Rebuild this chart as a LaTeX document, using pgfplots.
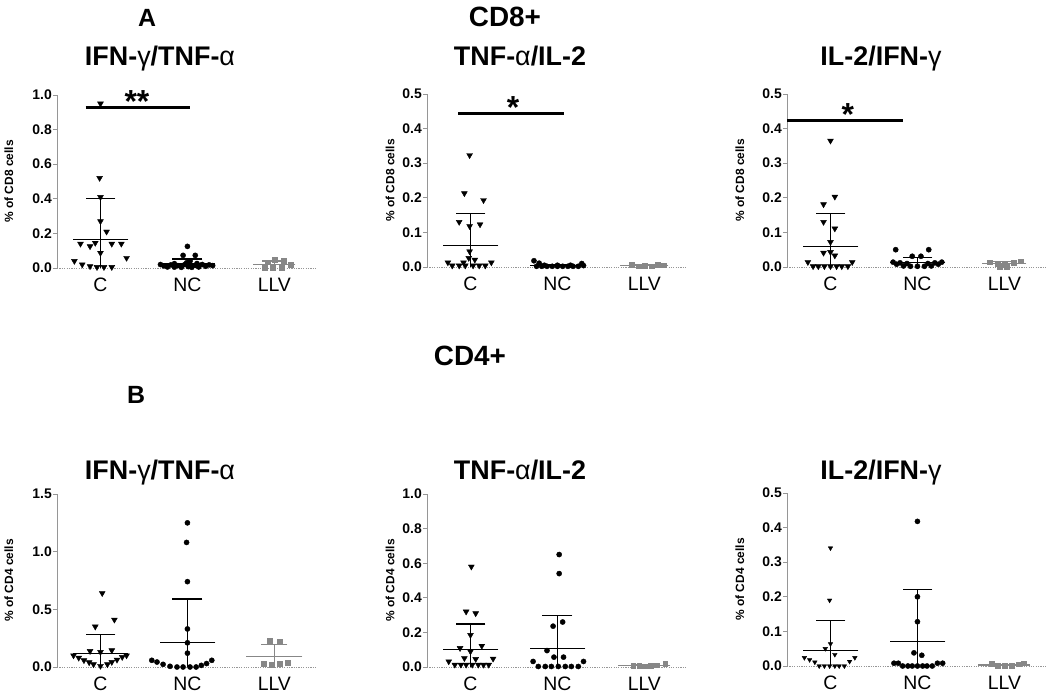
\documentclass[border=0pt]{standalone}
\usepackage{fontspec}
\setmainfont{Liberation Sans}
\usepackage{pgfplots}
\pgfplotsset{compat=1.18}
\definecolor{axisgray}{RGB}{150,150,150}
\definecolor{llvgray}{RGB}{135,135,135}
\pgfplotsset{
 panel/.style={
  scale only axis, width=260bp, height=173bp,
  xmin=0.5, xmax=3.49, ymin=0,
  clip=false,
  axis y line*=left, axis x line*=bottom,
  y axis line style={-, draw=axisgray, line width=0.8pt},
  x axis line style={-, draw=axisgray, line width=0.8pt, dash pattern=on 1.2pt off 1.2pt},
  xtick={1,2,3}, xticklabels={C,NC,LLV},
  major x tick style={draw=none},
  x tick label style={font=\fontsize{19.5}{20}\selectfont, text height=14bp, text depth=0bp, yshift=-2bp},
  y tick label style={font=\bfseries\fontsize{14}{15}\selectfont, inner xsep=1pt},
  /pgf/number format/.cd, fixed, fixed zerofill, precision=1, assume math mode=true, /pgfplots/.cd,
  ytick style={draw=axisgray, line width=0.8pt},
  tick align=outside, major tick length=4bp,
  ylabel style={font=\bfseries\fontsize{12}{14}\selectfont, anchor=center},
 },
 cmark/.style={only marks, black, mark=triangle*, mark size=3.4pt, mark options={rotate=180, fill=black, draw=black}},
 ncmark/.style={only marks, black, mark=*, mark size=2.6pt},
 llvmark/.style={only marks, llvgray, mark=square*, mark size=2.4pt},
 sdline/.style={ycomb, line width=1.2pt, mark=-, mark size=15pt},
 meanline/.style={only marks, line width=1.2pt, mark=-, mark size=28pt},
 sig/.style={line width=3pt, black, no marks},
}
\newcommand\startext[1]{\bfseries\fontsize{32}{32}\selectfont #1}
\begin{document}
\begin{tikzpicture}
\useasboundingbox (0,0) rectangle (1050bp,698bp);

% headings
\node[anchor=base, font=\bfseries\fontsize{25}{28}\selectfont] at (147bp,671bp) {A};
\node[anchor=base, font=\bfseries\fontsize{28}{30}\selectfont] at (505bp,671bp) {CD8+};
\node[anchor=base, font=\bfseries\fontsize{27}{30}\selectfont] at (160bp,632bp) {IFN-{\mdseries γ}/TNF-{\mdseries α}};
\node[anchor=base, font=\bfseries\fontsize{27}{30}\selectfont] at (520bp,632bp) {TNF-{\mdseries α}/IL-2};
\node[anchor=base, font=\bfseries\fontsize{27}{30}\selectfont] at (881bp,632bp) {IL-2/IFN-{\mdseries γ}};
\node[anchor=base, font=\bfseries\fontsize{28}{30}\selectfont] at (470bp,332bp) {CD4+};
\node[anchor=base, font=\bfseries\fontsize{25}{28}\selectfont] at (136bp,294bp) {B};
\node[anchor=base, font=\bfseries\fontsize{27}{30}\selectfont] at (160bp,218bp) {IFN-{\mdseries γ}/TNF-{\mdseries α}};
\node[anchor=base, font=\bfseries\fontsize{27}{30}\selectfont] at (520bp,218bp) {TNF-{\mdseries α}/IL-2};
\node[anchor=base, font=\bfseries\fontsize{27}{30}\selectfont] at (881bp,218bp) {IL-2/IFN-{\mdseries γ}};

% ---------- Panel 1: CD8 IFN/TNF ----------
\begin{axis}[panel, at={(57bp,430bp)}, anchor=south west, ymax=1.0, ytick={0,0.2,0.4,0.6,0.8,1.0},
  ylabel={\% of CD8 cells}, ylabel style={at={(axis description cs:-0.185,0.5)}}]
\addplot[cmark] coordinates {(1.0,0.95) (0.99,0.52) (1.0,0.41) (1.0,0.27) (1.07,0.21) (0.77,0.14) (0.94,0.145) (1.13,0.14) (1.24,0.14) (0.88,0.125) (1.0,0.087) (1.3,0.058) (0.7,0.04) (0.79,0.02) (0.88,0.01) (0.96,0.005) (1.04,0.005) (1.13,0.005)};
\addplot[ncmark] coordinates {(2.0,0.125) (1.95,0.073) (2.09,0.073) (2.03,0.04) (1.69,0.02) (1.73,0.012) (1.77,0.006) (1.81,0.018) (1.85,0.005) (1.89,0.014) (1.93,0.004) (1.97,0.02) (2.01,0.008) (2.05,0.004) (2.09,0.015) (2.13,0.006) (2.17,0.02) (2.21,0.01) (2.25,0.018) (2.29,0.014) (1.85,0.025) (1.99,0.03) (2.11,0.026)};
\addplot[llvmark] coordinates {(3.0,0.05) (2.92,0.033) (3.11,0.04) (2.89,0.0) (2.98,0.0) (3.08,0.0) (3.19,0.02)};
\addplot[sdline, black] coordinates {(1,0.40) (2,0.052)};
\addplot[meanline, black] coordinates {(1,0.165) (2,0.023)};
\addplot[sdline, llvgray, mark size=12pt] coordinates {(3,0.04)};
\addplot[meanline, llvgray, mark size=21pt] coordinates {(3,0.02)};
\addplot[sig] coordinates {(0.83,0.93) (2.03,0.93)};
\node[font=\startext{}, anchor=base, yshift=-8bp] at (axis cs:1.42,0.945) {**};
\end{axis}

% ---------- Panel 2: CD8 TNF/IL-2 ----------
\begin{axis}[panel, at={(427bp,431bp)}, anchor=south west, ymax=0.5, ytick={0,0.1,0.2,0.3,0.4,0.5},
  ylabel={\% of CD8 cells}, ylabel style={at={(axis description cs:-0.142,0.5)}}]
\addplot[cmark] coordinates {(0.99,0.323) (0.93,0.213) (1.15,0.193) (0.87,0.13) (0.99,0.118) (1.11,0.123) (0.99,0.045) (0.98,0.026) (1.05,0.021) (0.74,0.013) (0.92,0.013) (1.24,0.013) (0.79,0.004) (0.87,0.004) (0.94,0.004) (1.03,0.004) (1.10,0.004) (1.17,0.004)};
\addplot[ncmark] coordinates {(1.73,0.018) (1.79,0.011) (2.28,0.01) (1.76,0.002) (1.82,0.002) (1.88,0.002) (1.94,0.002) (2.0,0.002) (2.06,0.002) (2.12,0.002) (2.18,0.002) (2.24,0.002) (2.30,0.004) (1.85,0.005) (2.0,0.005) (2.15,0.005)};
\addplot[llvmark] coordinates {(2.85,0.006) (2.93,0.002) (3.0,0.004) (3.08,0.002) (3.15,0.007) (3.22,0.005)};
\addplot[sdline, black] coordinates {(1,0.155) (2,0.007)};
\addplot[meanline, black] coordinates {(1,0.062) (2,0.004)};
\addplot[sdline, llvgray, mark size=12pt] coordinates {(3,0.006)};
\addplot[meanline, llvgray, mark size=24pt] coordinates {(3,0.004)};
\addplot[sig] coordinates {(0.86,0.445) (2.07,0.445)};
\node[font=\startext{}, anchor=base, yshift=-8bp] at (axis cs:1.49,0.453) {*};
\end{axis}

% ---------- Panel 3: CD8 IL-2/IFN ----------
\begin{axis}[panel, at={(787bp,431bp)}, anchor=south west, ymax=0.5, ytick={0,0.1,0.2,0.3,0.4,0.5},
  ylabel={\% of CD8 cells}, ylabel style={at={(axis description cs:-0.181,0.5)}}]
\addplot[cmark] coordinates {(1.0,0.365) (1.05,0.203) (0.92,0.181) (0.92,0.13) (1.05,0.111) (1.0,0.072) (1.0,0.043) (0.92,0.041) (1.05,0.033) (0.74,0.014) (1.25,0.014) (0.8,0.002) (0.86,0.002) (0.93,0.002) (1.0,0.002) (1.07,0.002) (1.13,0.002) (1.2,0.002)};
\addplot[ncmark] coordinates {(1.75,0.05) (2.13,0.05) (1.94,0.031) (2.04,0.031) (1.72,0.014) (1.80,0.012) (1.88,0.01) (2.12,0.01) (2.2,0.012) (2.28,0.014) (1.84,0.003) (1.92,0.002) (2.0,0.002) (2.08,0.002) (2.16,0.003) (1.76,0.008) (2.24,0.008)};
\addplot[llvmark] coordinates {(2.83,0.014) (2.92,0.01) (3.0,0.007) (3.11,0.012) (3.19,0.017) (2.95,0.0) (3.03,0.0)};
\addplot[sdline, black] coordinates {(1,0.155) (2,0.027)};
\addplot[meanline, black] coordinates {(1,0.06) (2,0.014)};
\addplot[sdline, llvgray, mark size=12pt] coordinates {(3,0.016)};
\addplot[meanline, llvgray, mark size=22pt] coordinates {(3,0.009)};
\addplot[sig] coordinates {(0.5,0.423) (1.83,0.423)};
\node[font=\startext{}, anchor=base, yshift=-8bp] at (axis cs:1.2,0.431) {*};
\end{axis}

% ---------- Panel 4: CD4 IFN/TNF ----------
\begin{axis}[panel, at={(57bp,31bp)}, anchor=south west, ymax=1.5, ytick={0,0.5,1.0,1.5},
  ylabel={\% of CD4 cells}, ylabel style={at={(axis description cs:-0.185,0.5)}}]
\addplot[cmark] coordinates {(1.02,0.64) (1.16,0.41) (0.94,0.35) (0.88,0.138) (1.0,0.13) (1.13,0.144) (0.69,0.1) (0.75,0.08) (0.81,0.058) (0.87,0.04) (0.92,0.023) (1.0,0.009) (1.08,0.023) (1.13,0.043) (1.19,0.063) (1.25,0.086) (1.3,0.1)};
\addplot[ncmark] coordinates {(2.0,1.25) (1.99,1.08) (2.0,0.74) (2.0,0.33) (2.0,0.21) (2.0,0.12) (1.59,0.058) (1.65,0.043) (1.72,0.023) (1.8,0.006) (1.88,0.0) (1.95,0.0) (2.03,0.0) (2.1,0.0) (2.16,0.014) (2.22,0.03) (2.28,0.058)};
\addplot[llvmark] coordinates {(2.95,0.23) (3.06,0.22) (2.88,0.03) (2.97,0.02) (3.06,0.03) (3.15,0.035)};
\addplot[sdline, black] coordinates {(1,0.28) (2,0.59)};
\addplot[meanline, black] coordinates {(1,0.12) (2,0.21)};
\addplot[sdline, llvgray, mark size=13pt] coordinates {(3,0.193)};
\addplot[meanline, llvgray, mark size=28pt] coordinates {(3,0.092)};
\end{axis}

% ---------- Panel 5: CD4 TNF/IL-2 ----------
\begin{axis}[panel, at={(427bp,31bp)}, anchor=south west, ymax=1.0, ytick={0,0.2,0.4,0.6,0.8,1.0},
  ylabel={\% of CD4 cells}, ylabel style={at={(axis description cs:-0.142,0.5)}}]
\addplot[cmark] coordinates {(1.01,0.58) (0.95,0.32) (1.06,0.31) (1.0,0.185) (0.88,0.109) (1.13,0.122) (1.0,0.09) (0.93,0.051) (1.06,0.046) (0.75,0.032) (1.26,0.048) (0.82,0.013) (0.89,0.013) (0.95,0.013) (1.02,0.013) (1.09,0.013) (1.15,0.013) (1.21,0.013)};
\addplot[ncmark] coordinates {(2.02,0.65) (2.02,0.54) (1.95,0.236) (2.06,0.26) (1.88,0.095) (1.96,0.057) (2.07,0.057) (1.72,0.032) (2.3,0.032) (1.78,0.003) (1.86,0.003) (1.93,0.003) (2.01,0.003) (2.09,0.003) (2.16,0.003) (2.24,0.003)};
\addplot[llvmark] coordinates {(2.87,0.008) (2.94,0.006) (3.0,0.005) (3.07,0.006) (3.14,0.01) (3.24,0.02)};
\addplot[sdline, black] coordinates {(1,0.248) (2,0.3)};
\addplot[meanline, black] coordinates {(1,0.099) (2,0.109)};
\addplot[sdline, llvgray, mark size=12pt] coordinates {(3,0.015)};
\addplot[meanline, llvgray, mark size=26pt] coordinates {(3,0.01)};
\end{axis}

% ---------- Panel 6: CD4 IL-2/IFN ----------
\begin{axis}[panel, at={(787bp,32bp)}, anchor=south west, ymax=0.5, ytick={0,0.1,0.2,0.3,0.4,0.5},
  ylabel={\% of CD4 cells}, ylabel style={at={(axis description cs:-0.181,0.5)}}]
\addplot[cmark, mark size=2.6pt] coordinates {(1.0,0.341) (0.99,0.19) (1.0,0.064) (0.94,0.05) (1.05,0.033) (0.7,0.024) (0.76,0.018) (0.82,0.011) (1.22,0.013) (1.28,0.024) (0.87,0.0) (0.93,0.0) (0.99,0.0) (1.05,0.0) (1.1,0.0) (1.16,0.0)};
\addplot[ncmark] coordinates {(2.0,0.418) (2.0,0.2) (2.0,0.128) (1.96,0.038) (2.05,0.031) (1.73,0.008) (1.78,0.008) (2.23,0.008) (2.29,0.008) (1.83,0.0) (1.89,0.0) (1.94,0.0) (2.0,0.0) (2.06,0.0) (2.11,0.0) (2.17,0.0)};
\addplot[llvmark] coordinates {(2.85,0.006) (2.92,0.0) (3.0,0.0) (3.08,0.0) (3.16,0.005) (3.22,0.008)};
\addplot[sdline, black] coordinates {(1,0.132) (2,0.22)};
\addplot[meanline, black] coordinates {(1,0.045) (2,0.071)};
\addplot[sdline, llvgray, mark size=12pt] coordinates {(3,0.005)};
\addplot[meanline, llvgray, mark size=26pt] coordinates {(3,0.003)};
\end{axis}
\end{tikzpicture}
\end{document}
